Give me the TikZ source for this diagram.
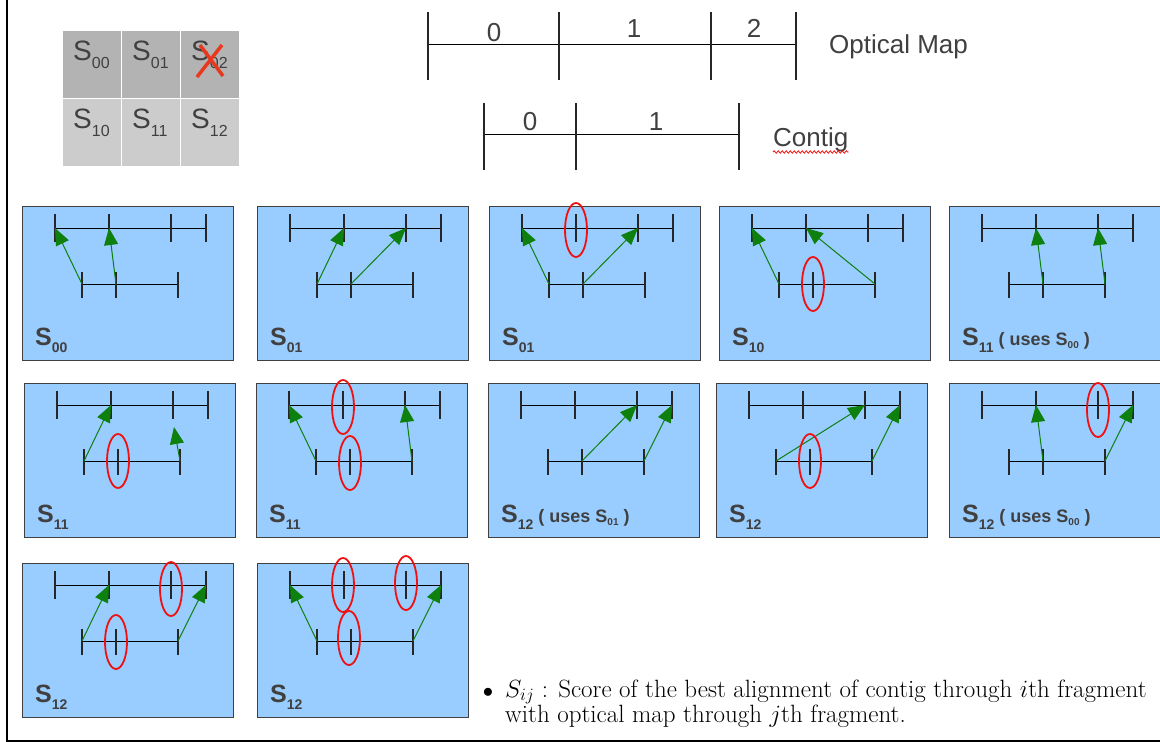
\documentclass[tikz,border=0pt]{standalone}
\usepackage{fontspec}
\setsansfont{Liberation Sans}
\usetikzlibrary{arrows.meta,decorations.pathmorphing,shapes.geometric}
\definecolor{pbl}{HTML}{99CCFF}
\definecolor{txg}{HTML}{404040}
\definecolor{arrg}{HTML}{0E800E}
\definecolor{ellr}{HTML}{F01010}
\definecolor{cellA}{HTML}{B3B3B3}
\definecolor{cellB}{HTML}{CCCCCC}
\definecolor{xred}{HTML}{E8381E}
\tikzset{
 pnl/.style={draw=txg, fill=pbl, line width=1pt, minimum width=211pt, minimum height=154pt, inner sep=0pt},
 tk/.style={line width=1.2pt, draw=black!85},
 bar/.style={line width=1pt, draw=black},
 garr/.style={draw=arrg, line width=1pt, -{Triangle[length=17pt,width=14pt]}},
 rell/.style={draw=ellr, ellipse, line width=1.8pt, minimum width=22pt, minimum height=54pt, inner sep=0pt},
 plab/.style={font={\sffamily\bfseries\fontsize{25}{25}\selectfont}, text=txg, inner sep=0pt},
 cellbox/.style={draw=white, line width=1.2pt, minimum width=59pt, minimum height=68pt, inner sep=0pt},
 gtxt/.style={font={\sffamily\fontsize{28}{28}\selectfont}, text=txg, inner sep=0pt},
 big/.style={font={\sffamily\fontsize{26}{26}\selectfont}, text=txg, inner sep=0pt},
 frame/.style={line width=1.5pt, draw=black},
 notetxt/.style={font={\fontsize{25}{30}\selectfont}, anchor=base west, inner sep=0pt},
}
\newcommand\SL[1]{S\raisebox{-7pt}{\fontsize{14}{14}\selectfont #1}}
\newcommand\US[1]{\fontsize{18}{18}\selectfont\ ( uses S\raisebox{-3pt}{\fontsize{10}{10}\selectfont #1} )}
\newcommand\mypanel[4]{%
 \node[pnl, anchor=north west] (#1) at (#2,#3) {};
 \begin{scope}[shift={(#2,#3)}]
  \foreach \k/\xx in {0/33,1/87,2/149,3/184} {\coordinate (#1o\k) at (\xx,22);}
  \foreach \k/\xx in {0/60,1/94,2/156} {\coordinate (#1c\k) at (\xx,78);}
  \draw[bar] (#1o0) -- (#1o3);
  \draw[bar] (#1c0) -- (#1c2);
  \foreach \k in {0,1,2,3} {\draw[tk] ([yshift=14pt]#1o\k) -- ([yshift=-14pt]#1o\k);}
  \foreach \k in {0,1,2} {\draw[tk] ([yshift=12pt]#1c\k) -- ([yshift=-14pt]#1c\k);}
  \node[plab, anchor=base west] (#1l) at (13,139) {#4};
 \end{scope}}
\begin{document}
\begin{tikzpicture}[x=1pt,y=-1pt]
\useasboundingbox[fill=white] (0,0) rectangle (1160,742);
\draw[frame] (7,0) -- (7,741) -- (1160,741);

% grid
\foreach \r/\yy/\c in {0/30/cellA,1/98/cellB} {
 \foreach \cc/\xx in {0/62,1/121,2/180} {
  \node[cellbox, fill=\c, anchor=north west] (g\r\cc) at (\xx,\yy) {};
  \node[gtxt, anchor=base west] (t\r\cc) at (\xx+11,\yy+30) {S\raisebox{-8pt}{\fontsize{16}{16}\selectfont \r\cc}};
 }}
\draw[xred, line width=3.5pt] (200,45) -- (223,76);
\draw[xred, line width=3.5pt] (222,45) -- (197,77);

% optical map
\coordinate (om0) at (428,44); \coordinate (om1) at (559,44);
\coordinate (om2) at (711,44); \coordinate (om3) at (796,44);
\draw[bar] (om0) -- (om3);
\foreach \k in {0,1,2,3} {\draw[tk] ([yshift=32pt]om\k) -- ([yshift=-36pt]om\k);}
\node[big, anchor=base] (oml0) at (494,41) {0};
\node[big, anchor=base] (oml1) at (634,37) {1};
\node[big, anchor=base] (oml2) at (754,37) {2};
\node[big, anchor=base west] (omt) at (829,53) {Optical Map};

% contig
\coordinate (cg0) at (484,134); \coordinate (cg1) at (576,134); \coordinate (cg2) at (739,134);
\draw[bar] (cg0) -- (cg2);
\foreach \k in {0,1,2} {\draw[tk] ([yshift=31pt]cg\k) -- ([yshift=-36pt]cg\k);}
\node[big, anchor=base] (cgl0) at (530,130) {0};
\node[big, anchor=base] (cgl1) at (656,130) {1};
\node[big, anchor=base west] (cgt) at (773,146) {Contig};
\draw[ellr, line width=0.8pt, decorate, decoration={snake, amplitude=1.2pt, segment length=4pt}] ([yshift=-6pt]cgt.base west) -- ([yshift=-6pt]cgt.base east);

% row 1
\mypanel{a}{22}{206}{\SL{00}}
\draw[garr] (ac0) -- (ao0); \draw[garr] (ac1) -- (ao1);
\mypanel{b}{257}{206}{\SL{01}}
\draw[garr] (bc0) -- (bo1); \draw[garr] (bc1) -- (bo2);
\mypanel{c}{489}{206}{\SL{01}}
\draw[garr] (cc0) -- (co0); \draw[garr] (cc1) -- (co2);
\node[rell] (ce1) at ([yshift=-2pt]co1) {};
\mypanel{d}{719}{206}{\SL{10}}
\draw[garr] (dc0) -- (do0); \draw[garr] (dc2) -- (do1);
\node[rell] (de1) at (dc1) {};
\mypanel{e}{949}{206}{\SL{11}\US{00}}
\draw[garr] (ec1) -- (eo1); \draw[garr] (ec2) -- (eo2);

% row 2
\mypanel{f}{24}{383}{\SL{11}}
\draw[garr] (fc0) -- (fo1); \draw[garr] (fc2) -- ([yshift=-22pt,xshift=1pt]fo2);
\node[rell] (fe1) at (fc1) {};
\mypanel{g}{256}{383}{\SL{11}}
\draw[garr] (gc0) -- (go0); \draw[garr] (gc2) -- (go2);
\node[rell] (ge1) at ([yshift=-2pt]go1) {};
\node[rell] (ge2) at ([yshift=-2pt]gc1) {};
\mypanel{h}{488}{383}{\SL{12}\US{01}}
\draw[garr] (hc1) -- (ho2); \draw[garr] (hc2) -- (ho3);
\mypanel{i}{716}{383}{\SL{12}}
\draw[garr] (ic0) -- (io2); \draw[garr] (ic2) -- (io3);
\node[rell] (ie1) at (ic1) {};
\mypanel{j}{949}{383}{\SL{12}\US{00}}
\draw[garr] (jc1) -- (jo1); \draw[garr] (jc2) -- (jo3);
\node[rell] (je1) at ([yshift=-5pt]jo2) {};

% row 3
\mypanel{k}{22}{563}{\SL{12}}
\draw[garr] (kc0) -- (ko1); \draw[garr] (kc2) -- (ko3);
\node[rell] (ke1) at ([yshift=-4pt]ko2) {};
\node[rell] (ke2) at ([yshift=-1pt]kc1) {};
\mypanel{m}{257}{563}{\SL{12}}
\draw[garr] (mc0) -- (mo0); \draw[garr] (mc2) -- (mo3);
\node[rell] (me1) at ([xshift=-1pt]mo1) {};
\node[rell] (me2) at ([yshift=2pt]mo2) {};
\node[rell] (me3) at ([yshift=3pt,xshift=-2pt]mc1) {};

% note
\node[font={\fontsize{22}{22}\selectfont}, anchor=base, inner sep=0pt] (bul) at (488,697) {$\bullet$};
\node[notetxt] (note1) at (505,697) {$S_{ij}$ : Score of the best alignment of contig through $i$th fragment};
\node[notetxt] (note2) at (505,722) {with optical map through $j$th fragment.};
\end{tikzpicture}
\end{document}
